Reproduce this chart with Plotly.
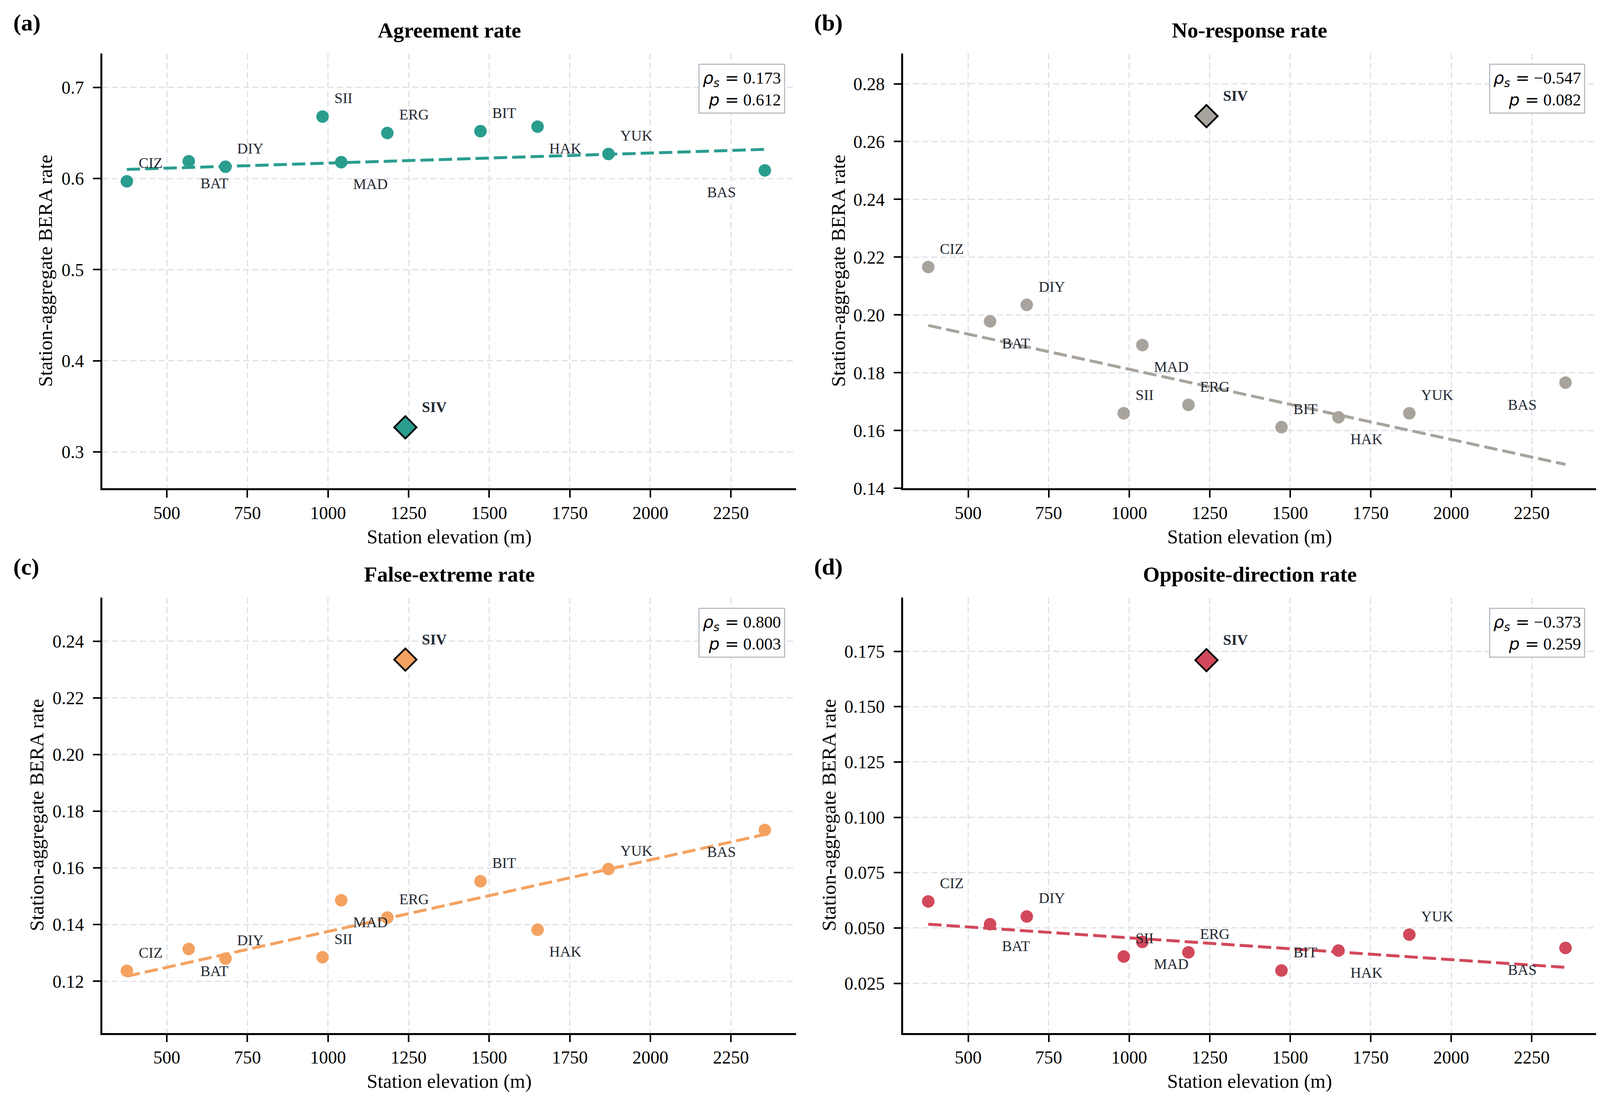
import plotly.graph_objects as go

# ---------------- data ----------------
stations = ["CIZ", "BAT", "DIY", "SII", "MAD", "ERG", "SIV", "BIT", "HAK", "YUK", "BAS"]
elevation_m = [376, 568, 682, 983, 1041, 1184, 1240, 1473, 1650, 1870, 2355]

agreement_rate = [0.597, 0.619, 0.613, 0.668, 0.618, 0.650, 0.327, 0.652, 0.657, 0.627, 0.609]
no_response_rate = [0.2166, 0.1978, 0.2035, 0.1660, 0.1896, 0.1689, 0.2688, 0.1612, 0.1646, 0.1660, 0.1766]
false_extreme_rate = [0.1237, 0.1314, 0.1280, 0.1285, 0.1486, 0.1425, 0.2335, 0.1553, 0.1382, 0.1596, 0.1734]
opposite_direction_rate = [0.0620, 0.0517, 0.0552, 0.0371, 0.0437, 0.0390, 0.1710, 0.0308, 0.0398, 0.0470, 0.0410]

# trend line values at min / max elevation
trend_agreement = [0.610, 0.632]
trend_no_response = [0.1964, 0.1483]
trend_false_extreme = [0.1218, 0.1718]
trend_opposite = [0.0517, 0.0322]

rho_s = ["0.173", "\u22120.547", "0.800", "\u22120.373"]
p_val = ["0.612", "0.082", "0.003", "0.259"]

panel_titles = ["Agreement rate", "No-response rate", "False-extreme rate", "Opposite-direction rate"]
panel_letters = ["(a)", "(b)", "(c)", "(d)"]
x_title = "Station elevation (m)"
y_title = "Station-aggregate BERA rate"

x_ticks = [500, 750, 1000, 1250, 1500, 1750, 2000, 2250]
y_ticks_a = [0.3, 0.4, 0.5, 0.6, 0.7]
y_ticks_b = [0.14, 0.16, 0.18, 0.20, 0.22, 0.24, 0.26, 0.28]
y_ticks_c = [0.12, 0.14, 0.16, 0.18, 0.20, 0.22, 0.24]
y_ticks_d = [0.025, 0.050, 0.075, 0.100, 0.125, 0.150, 0.175]

# label placement per station (ur = upper-right, lr = lower-right, ll = lower-left)
label_pos = {"CIZ": "ur", "BAT": "lr", "DIY": "ur", "SII": "ur", "MAD": "lr", "ERG": "ur",
             "SIV": "siv", "BIT": "ur", "HAK": "lr", "YUK": "ur", "BAS": "ll"}

# ---------------- styling ----------------
W, H = 4106, 2824
colors = ["#2a9d8f", "#a8a39d", "#f4a261", "#d1495b"]
FONT = "Liberation Serif"
TXT = "#222831"

series = [agreement_rate, no_response_rate, false_extreme_rate, opposite_direction_rate]
trends = [trend_agreement, trend_no_response, trend_false_extreme, trend_opposite]
yticks = [y_ticks_a, y_ticks_b, y_ticks_c, y_ticks_d]
yfmt = [".1f", ".2f", ".2f", ".3f"]
yranges = [[0.260, 0.7373], [0.14, 0.2905], [0.1018, 0.2554], [0.0026, 0.1993]]

# pixel boxes (left, right, top, bottom)
boxes = [(254, 2030, 130, 1254), (2304, 4078, 130, 1254),
         (254, 2030, 1536, 2661), (2304, 4078, 1536, 2661)]
xranges = [[300, 2452], [298, 2450], [300, 2452], [298, 2450]]
ytitle_x = [108, 2138, 86, 2114]

fig = go.Figure()
layout = dict(width=W, height=H, margin=dict(l=0, r=0, t=0, b=0),
              plot_bgcolor="white", paper_bgcolor="white", showlegend=False,
              font=dict(family=FONT, size=46, color="black"))
annotations = []

for i in range(4):
    sfx = "" if i == 0 else str(i + 1)
    xr, yr = "x" + sfx, "y" + sfx
    l, r, t, b = boxes[i]
    ys = series[i]
    normal_idx = [k for k, s in enumerate(stations) if s != "SIV"]
    siv_idx = stations.index("SIV")

    # trend line
    fig.add_trace(go.Scatter(
        x=[min(elevation_m), max(elevation_m)], y=trends[i], mode="lines",
        line=dict(color=colors[i], width=7.5, dash="34px,13px"),
        xaxis=xr, yaxis=yr, hoverinfo="skip"))
    # regular stations
    fig.add_trace(go.Scatter(
        x=[elevation_m[k] for k in normal_idx], y=[ys[k] for k in normal_idx],
        mode="markers", marker=dict(color=colors[i], size=32, line=dict(width=0)),
        xaxis=xr, yaxis=yr))
    # SIV highlighted
    fig.add_trace(go.Scatter(
        x=[elevation_m[siv_idx]], y=[ys[siv_idx]], mode="markers",
        marker=dict(color=colors[i], size=44, symbol="diamond",
                    line=dict(color="black", width=4.5)),
        xaxis=xr, yaxis=yr))

    # station labels
    for k, s in enumerate(stations):
        pos = label_pos[s]
        a = dict(x=elevation_m[k], y=ys[k], xref=xr, yref=yr, text=s, showarrow=False,
                 font=dict(family=FONT, size=38, color=TXT), yanchor="middle")
        if pos == "ur":
            a.update(xanchor="left", xshift=28, yshift=47)
        elif pos == "lr":
            a.update(xanchor="left", xshift=28, yshift=-56)
        elif pos == "ll":
            a.update(xanchor="right", xshift=-72, yshift=-56)
        else:
            a.update(text="<b>SIV</b>", xanchor="left", xshift=40, yshift=52)
        annotations.append(a)

    # stats box
    stat_txt = ("<span style='font-family:DejaVu Sans'><i>\u03c1</i><sub><i>s</i></sub> =</span> "
                + rho_s[i] + "<br><span style='font-family:DejaVu Sans'><i>p</i> =</span> " + p_val[i])
    annotations.append(dict(x=1, y=1, xref=xr + " domain", yref=yr + " domain", text=stat_txt,
                            showarrow=False, xanchor="right", yanchor="top", align="right",
                            xshift=-28, yshift=-26, bgcolor="white", bordercolor="#b8bec6",
                            borderwidth=3, borderpad=8,
                            font=dict(family=FONT, size=43, color="black")))

    # titles / panel letters / axis titles
    annotations.append(dict(x=(l + r) / 2 / W, y=1 - (t - 60) / H, xref="paper", yref="paper",
                            text="<b>" + panel_titles[i] + "</b>", showarrow=False,
                            xanchor="center", yanchor="middle",
                            font=dict(family=FONT, size=55, color="black")))
    annotations.append(dict(x=(l - 230) / W, y=1 - (t - 80) / H, xref="paper", yref="paper",
                            text="<b>" + panel_letters[i] + "</b>", showarrow=False,
                            xanchor="left", yanchor="middle",
                            font=dict(family=FONT, size=60, color="black")))
    annotations.append(dict(x=(l + r) / 2 / W, y=1 - (b + 125) / H, xref="paper", yref="paper",
                            text=x_title, showarrow=False,
                            xanchor="center", yanchor="middle",
                            font=dict(family=FONT, size=50, color="black")))
    annotations.append(dict(x=ytitle_x[i] / W, y=1 - (t + b) / 2 / H, xref="paper", yref="paper",
                            text=y_title, showarrow=False, textangle=-90,
                            xanchor="center", yanchor="middle",
                            font=dict(family=FONT, size=51, color="black")))

    axis_common = dict(showline=True, linecolor="black", linewidth=4.5, mirror=False,
                       ticks="outside", ticklen=19, tickwidth=4, tickcolor="black",
                       showgrid=True, gridcolor="#dfe1e8", gridwidth=3, griddash="16px,8px",
                       zeroline=False, tickfont=dict(family=FONT, size=46, color="black"))
    layout["xaxis" + sfx] = dict(axis_common, domain=[l / W, r / W], range=xranges[i],
                                 anchor=yr, tickvals=x_ticks, ticklabelstandoff=0)
    layout["yaxis" + sfx] = dict(axis_common, domain=[1 - b / H, 1 - t / H], range=yranges[i],
                                 anchor=xr, tickvals=yticks[i], tickformat=yfmt[i],
                                 ticklabelstandoff=14)

layout["annotations"] = annotations
fig.update_layout(**layout)
fig.write_html("out.html")
